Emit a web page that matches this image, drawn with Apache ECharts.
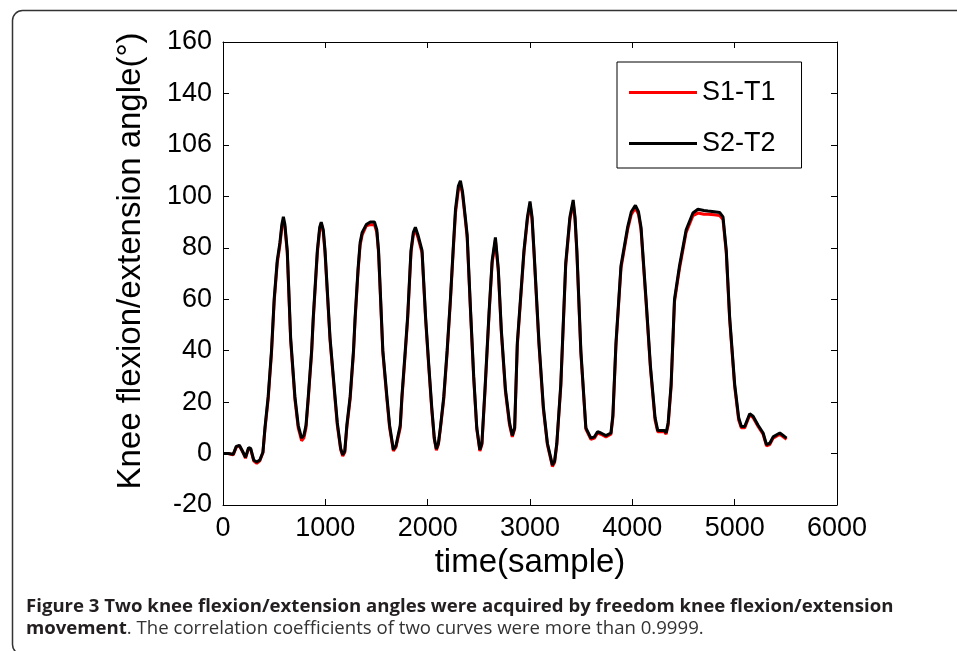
<!DOCTYPE html>
<html>
<head>
<meta charset="utf-8">
<script src="https://cdn.jsdelivr.net/npm/echarts@6/dist/echarts.min.js"></script>
<style>
html,body{margin:0;padding:0;background:#fff;}
#chart{width:957px;height:651px;}
</style>
</head>
<body>
<div id="chart"></div>
<script>
// ---- data ----
var seriesNames = ['S1-T1', 'S2-T2'];
var timeSample = [0,50,100,130,160,190,220,250,270,300,330,360,390,410,441,474,500,530,556,575,590,605,628,661,703,735,768,790,811,833,866,882,922,945,960,980,997,1046,1095,1117,1150,1170,1190,1210,1242,1275,1291,1320,1340,1360,1400,1440,1480,1503,1520,1562,1602,1628,1665,1690,1732,1748,1781,1804,1837,1860,1880,1905,1945,1980,2010,2040,2065,2085,2105,2124,2157,2190,2222,2250,2272,2300,2320,2340,2365,2386,2420,2450,2480,2510,2530,2560,2600,2630,2662,2690,2720,2760,2800,2827,2850,2876,2941,2975,3000,3020,3039,3088,3131,3170,3219,3240,3262,3301,3349,3390,3422,3440,3458,3497,3546,3595,3630,3660,3693,3742,3791,3810,3840,3889,3954,3990,4030,4060,4085,4134,4177,4222,4248,4290,4314,4330,4350,4379,4412,4461,4526,4592,4641,4700,4739,4800,4853,4886,4918,4951,5000,5039,5065,5098,5147,5180,5229,5278,5311,5343,5376,5441,5474,5507];
var s2t2 = [0,0,-0.3,2.8,3.2,1,-1.5,2.3,2,-2.5,-3.3,-2.5,0.5,10,22,40,60,75,82,89,92,89,79,45,22,11,6,7,11,22,40,53,79,88,90,87,79,45,22,12,2,-0.5,1,11,22,40,53,72,82,86,89,90,90,87,79,40,22,11,1.5,3,11,22,40,53,79,86,88,85,79,53,35,18,6,1.8,4,10,22,40,60,80,95,104,106,102,93,85,55,30,10,1.5,4,25,55,75,84,72,48,25,12,7,10,43,79,92,98,92,79,43,18,4,-4.5,-3,4,27,74,92,98.6,92,79,40,10,6,6.5,8.5,8,7,8,15,43,73,88,94,96.5,94,88,60,34,14,9,9,9,8,12,27,60,73,87,93.5,95,94.5,94.3,94,93.7,92,79,53,27,14,10.5,10.5,15.5,14.5,11,8,3.5,4,6.5,8,7,6];
var s1t1 = [0,0,-0.5,2.5,3,0.8,-1.8,2,1.8,-2.8,-3.8,-2.8,0.3,9.5,21,39,59,74,81,88,90.5,88,78,44,21,10,5,6,10,21,39,52,78,87,89.5,86,78,44,21,11,1.5,-1,0.5,10,21,39,52,71,81,85,88.5,89,89,86,78,39,21,10,1,2.5,10,21,39,52,78,85,87,84,78,52,34,17,5.5,1.3,3.5,9.5,21,39,59,79,93.5,102.5,104.5,101,92,84,54,29,9.5,1,3.5,24,54,74,83,71,47,24,11,6.5,9.5,42,78,91,97,91,78,42,17,3.5,-5,-3.5,3.5,26,73,91,97.5,91,78,39,9.5,5.5,6,8,7.5,6.5,7.5,14,42,72,87,93,95.5,93,87,59,33,13,8.5,8.5,8.5,7.5,11,26,59,72,86,92.5,93.5,93,93,92.8,92.5,91,78,52,26,13,10,10,15,14,10.5,7.5,3,3.5,6,7.5,6.5,5.5];
var xTickValues = [0,1000,2000,3000,4000,5000,6000];
var xTickLabels = ['0','1000','2000','3000','4000','5000','6000'];
var yTickValues = [-20,0,20,40,60,80,100,120,140,160];
var yTickLabels = ['-20','0','20','40','60','80','100','106','140','160'];
var xAxisTitle = 'time(sample)';
var yAxisTitle = 'Knee flexion/extension angle(°)';
var captionBold1 = 'Figure 3 Two knee flexion/extension angles were acquired by freedom knee flexion/extension';
var captionBold2 = 'movement';
var captionRest2 = '. The correlation coefficients of two curves were more than 0.9999.';

// ---- chart ----
var FONT = 'Liberation Sans, Arial, Helvetica, sans-serif';
var CAPFONT = 'Open Sans, sans-serif';
var chart = echarts.init(document.getElementById('chart'), null, {renderer: 'canvas'});

function xLab(v){ var i = xTickValues.indexOf(v); return i >= 0 ? xTickLabels[i] : ''; }
function yLab(v){ var i = yTickValues.indexOf(v); return i >= 0 ? yTickLabels[i] : ''; }

var axisLine = {show: true, onZero: false, lineStyle: {color: '#000', width: 1}};
var axisTick = {show: true, inside: true, length: 6, lineStyle: {color: '#000', width: 1}};

chart.setOption({
  animation: false,
  backgroundColor: '#fff',
  grid: {left: 223, right: 120, top: 42, bottom: 146, containLabel: false, outerBoundsMode: 'none'},
  xAxis: [{
    type: 'value', min: 0, max: 6000, interval: 1000, position: 'bottom',
    axisLine: axisLine, axisTick: axisTick, splitLine: {show: false},
    axisLabel: {show: true, margin: 10, fontSize: 27, color: '#000', fontFamily: FONT, formatter: xLab},
    name: xAxisTitle, nameLocation: 'middle', nameGap: 33,
    nameTextStyle: {fontSize: 33, color: '#000', fontFamily: FONT}
  }, {
    type: 'value', min: 0, max: 6000, interval: 1000, position: 'top',
    axisLine: axisLine, axisTick: axisTick, splitLine: {show: false}, axisLabel: {show: false}
  }],
  yAxis: [{
    type: 'value', min: -20, max: 160, interval: 20, position: 'left',
    axisLine: axisLine, axisTick: axisTick, splitLine: {show: false},
    axisLabel: {show: true, margin: 11, fontSize: 27, color: '#000', fontFamily: FONT, formatter: yLab}
  }, {
    type: 'value', min: -20, max: 160, interval: 20, position: 'right',
    axisLine: axisLine, axisTick: axisTick, splitLine: {show: false}, axisLabel: {show: false}
  }],
  legend: {
    show: true, orient: 'vertical', left: 617, top: 62,
    padding: [17, 26, 11, 12], itemGap: 24, itemWidth: 68, itemHeight: 3,
    icon: 'rect',
    backgroundColor: '#fff', borderColor: '#000', borderWidth: 1, borderRadius: 0,
    textStyle: {fontSize: 27, color: '#000', fontFamily: FONT, padding: [0, 0, 0, 0]},
    data: seriesNames
  },
  series: [{
    name: seriesNames[0], type: 'line', xAxisIndex: 0, yAxisIndex: 0,
    showSymbol: false, symbol: 'none', smooth: false,
    lineStyle: {color: '#ff0000', width: 3}, itemStyle: {color: '#ff0000'},
    data: timeSample.map(function(t, i){ return [t, s1t1[i]]; }), z: 2
  }, {
    name: seriesNames[1], type: 'line', xAxisIndex: 0, yAxisIndex: 0,
    showSymbol: false, symbol: 'none', smooth: false,
    lineStyle: {color: '#000000', width: 3}, itemStyle: {color: '#000000'},
    data: timeSample.map(function(t, i){ return [t, s2t2[i]]; }), z: 3
  }],
  graphic: [{
    type: 'rect', left: 10, top: 8, silent: true, z: -1,
    shape: {x: 0, y: 0, width: 970, height: 644, r: 10},
    style: {fill: 'none', stroke: '#333', lineWidth: 1.5}
  }, {
    type: 'text', x: 131, y: 261, rotation: Math.PI / 2, silent: true,
    style: {text: yAxisTitle, fontSize: 33, fontFamily: FONT, fill: '#000', textAlign: 'center', textVerticalAlign: 'middle'}
  }, {
    type: 'text', x: 26, y: 607, silent: true,
    style: {text: captionBold1, fontSize: 18.6, fontWeight: 'bold', fontFamily: CAPFONT, fill: '#231f20', textAlign: 'left', textVerticalAlign: 'middle'}
  }, {
    type: 'text', x: 26, y: 629, silent: true,
    style: {
      text: '{b|' + captionBold2 + '}{r|' + captionRest2 + '}',
      fontSize: 18.6, fontFamily: CAPFONT, fill: '#231f20', textAlign: 'left', textVerticalAlign: 'middle',
      rich: {
        b: {fontSize: 18.6, fontWeight: 'bold', fontFamily: CAPFONT, fill: '#231f20'},
        r: {fontSize: 18.6, fontWeight: 'normal', fontFamily: CAPFONT, fill: '#333'}
      }
    }
  }]
});
</script>
</body>
</html>
